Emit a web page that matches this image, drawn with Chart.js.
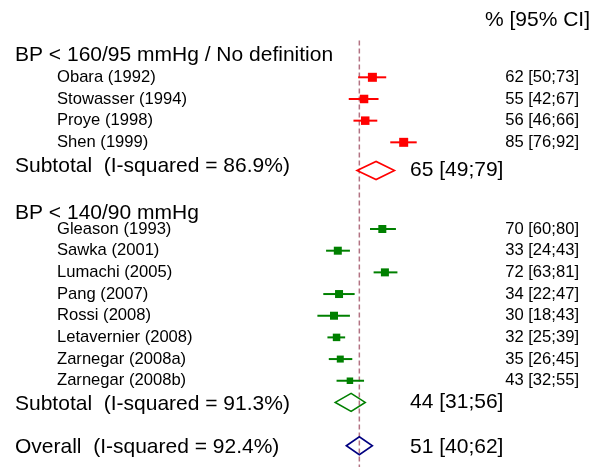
<!DOCTYPE html>
<html>
<head>
<meta charset="utf-8">
<script src="https://cdn.jsdelivr.net/npm/chart.js@4"></script>
<style>
  html, body { margin: 0; padding: 0; background: #fff; }
  #wrap { width: 600px; height: 467px; position: relative; }
</style>
</head>
<body>
<div id="wrap"><canvas id="forest"></canvas></div>
<script>
// --- data (percent, 95% CI) ---
const groupNames = ["BP < 160/95 mmHg / No definition", "BP < 140/90 mmHg"];
const studies = ["Obara (1992)", "Stowasser (1994)", "Proye (1998)", "Shen (1999)",
                 "Gleason (1993)", "Sawka (2001)", "Lumachi (2005)", "Pang (2007)",
                 "Rossi (2008)", "Letavernier (2008)", "Zarnegar (2008a)", "Zarnegar (2008b)"];
const studyGroup = [0, 0, 0, 0, 1, 1, 1, 1, 1, 1, 1, 1];
const est = [62, 55, 56, 85, 70, 33, 72, 34, 30, 32, 35, 43];
const lo  = [50, 42, 46, 76, 60, 24, 63, 22, 18, 25, 26, 32];
const hi  = [73, 67, 66, 92, 80, 43, 81, 47, 43, 39, 45, 55];
const subEst = [65, 44];
const subLo  = [49, 31];
const subHi  = [79, 56];
const subI2  = [86.9, 91.3];
const overallEst = 51, overallLo = 40, overallHi = 62, overallI2 = 92.4;

// axis is on the arcsine-sqrt scale
const tf = p => Math.asin(Math.sqrt(p / 100));

// row layout (y in row units, top to bottom)
const studyRow = [0, 1, 2, 3, 7, 8, 9, 10, 11, 12, 13, 14];
const headRow  = [-1, 6.27];
const subRow   = [4.3, 15];
const subLabelRow = [4.1, 15.1];
const overallRow = 17;

const colors = ["#ff0000", "#008000"];
const boxSide = [9, 8.5, 8.5, 9, 8, 8, 8, 8, 8, 7.5, 7, 6.5];
const FONT = "'Liberation Sans', Arial, sans-serif";

const forestPlugin = {
  id: "forest",
  beforeDatasetsDraw(chart) {
    const { ctx, scales: { x, y } } = chart;
    ctx.save();
    // reference line at overall estimate
    const px = x.getPixelForValue(tf(overallEst));
    ctx.strokeStyle = "rgba(160,80,100,0.8)";
    ctx.lineWidth = 1.5;
    ctx.setLineDash([5, 3]);
    ctx.beginPath();
    ctx.moveTo(px, y.getPixelForValue(-1.7));
    ctx.lineTo(px, chart.height);
    ctx.stroke();
    ctx.setLineDash([]);
    // CI whiskers
    ctx.lineWidth = 2;
    studies.forEach((s, i) => {
      const py = y.getPixelForValue(studyRow[i]);
      ctx.strokeStyle = colors[studyGroup[i]];
      ctx.beginPath();
      ctx.moveTo(x.getPixelForValue(tf(lo[i])), py);
      ctx.lineTo(x.getPixelForValue(tf(hi[i])), py);
      ctx.stroke();
    });
    ctx.restore();
  },
  afterDatasetsDraw(chart) {
    const { ctx, scales: { x, y } } = chart;
    ctx.save();
    const diamond = (e, l, h, row, col) => {
      const py = y.getPixelForValue(row);
      ctx.strokeStyle = col;
      ctx.lineWidth = 1.6;
      ctx.beginPath();
      ctx.moveTo(x.getPixelForValue(tf(l)), py);
      ctx.lineTo(x.getPixelForValue(tf(e)), py - 9);
      ctx.lineTo(x.getPixelForValue(tf(h)), py);
      ctx.lineTo(x.getPixelForValue(tf(e)), py + 9);
      ctx.closePath();
      ctx.stroke();
    };
    subEst.forEach((e, g) => diamond(e, subLo[g], subHi[g], subRow[g], colors[g]));
    diamond(overallEst, overallLo, overallHi, overallRow, "#000080");

    // texts
    ctx.fillStyle = "#000";
    ctx.textBaseline = "middle";
    ctx.font = `21px ${FONT}`;
    ctx.textAlign = "right";
    ctx.fillText("% [95% CI]", 590, y.getPixelForValue(-2.65));
    ctx.textAlign = "left";
    groupNames.forEach((g, k) => {
      ctx.fillText(g, 15, y.getPixelForValue(headRow[k]));
      ctx.fillText(`Subtotal  (I-squared = ${subI2[k].toFixed(1)}%)`, 15, y.getPixelForValue(subLabelRow[k]));
      ctx.fillText(`${subEst[k]} [${subLo[k]};${subHi[k]}]`, 410, y.getPixelForValue(subRow[k]));
    });
    ctx.fillText(`Overall  (I-squared = ${overallI2.toFixed(1)}%)`, 15, y.getPixelForValue(overallRow + 0.05));
    ctx.fillText(`${overallEst} [${overallLo};${overallHi}]`, 410, y.getPixelForValue(overallRow + 0.05));

    ctx.font = `16.6px ${FONT}`;
    studies.forEach((s, i) => {
      const py = y.getPixelForValue(studyRow[i]);
      ctx.textAlign = "left";
      ctx.fillText(s, 57, py);
      ctx.textAlign = "right";
      ctx.fillText(`${est[i]} [${lo[i]};${hi[i]}]`, 579, py);
    });
    ctx.restore();
  }
};

new Chart(document.getElementById("forest"), {
  type: "scatter",
  data: {
    datasets: [{
      label: "Studies",
      data: studies.map((s, i) => ({ x: tf(est[i]), y: studyRow[i] })),
      pointStyle: "rect",
      pointRadius: boxSide.map(s => s / Math.SQRT2),
      pointHoverRadius: boxSide.map(s => s / Math.SQRT2),
      backgroundColor: studyGroup.map(g => colors[g]),
      borderColor: studyGroup.map(g => colors[g]),
      borderWidth: 0,
      clip: false,
    }]
  },
  options: {
    responsive: true,
    maintainAspectRatio: false,
    animation: false,
    layout: { padding: 0, autoPadding: false },
    plugins: { legend: { display: false }, tooltip: { enabled: false } },
    scales: {
      x: { type: "linear", display: false, min: -2.2656, max: 2.8454 },
      y: { type: "linear", display: false, reverse: true, min: -3.567, max: 17.98 }
    }
  },
  plugins: [forestPlugin],
});
</script>
</body>
</html>
